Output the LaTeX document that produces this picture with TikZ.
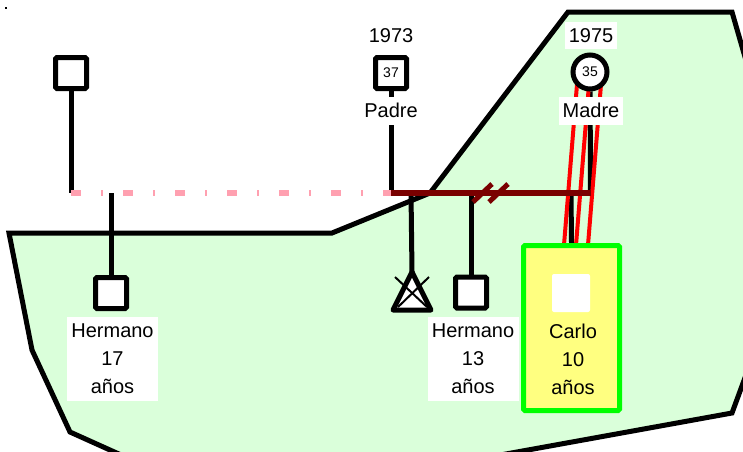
\documentclass[tikz,border=0pt]{standalone}
\usepackage{fontspec}
\setmainfont{Liberation Sans}
\usetikzlibrary{positioning}
\definecolor{areaColor}{RGB}{218,255,218}
\definecolor{pastColor}{RGB}{255,160,176}
\definecolor{marriageColor}{RGB}{122,0,0}
\definecolor{carloFill}{RGB}{255,255,128}
\definecolor{carloBorder}{RGB}{0,255,0}
\pgfdeclarelayer{areaLayer}
\pgfdeclarelayer{lineLayer}
\pgfsetlayers{areaLayer,lineLayer,main}
\tikzstyle{pixels} = [x = 1pt, y = -1pt]
\tikzstyle{maleStyle} = [draw=black, fill=white, line width=5pt, rounded corners=1.5pt, minimum size=31pt, inner sep=0pt, font=\fontsize{14}{14}\selectfont]
\tikzstyle{femaleStyle} = [circle, draw=black, fill=white, line width=5pt, minimum size=34pt, inner sep=0pt, font=\fontsize{14}{14}\selectfont]
\tikzstyle{nameText} = [inner sep=0pt, align=center, font=\fontsize{20}{28}\selectfont]
\tikzstyle{nameLabel} = [nameText, fill=white]
\tikzstyle{carloStyle} = [draw=carloBorder, fill=carloFill, line width=5pt, rounded corners=1.5pt, minimum width=96pt, minimum height=165pt, inner sep=0pt]
\tikzstyle{lifeLine} = [color=black, line width=5pt]
\tikzstyle{crossLine} = [color=black, line width=2pt]
\tikzstyle{fusedLine} = [color=red, line width=4pt]
\tikzstyle{pastLine} = [color=pastColor, line width=6pt, dash pattern=on 10pt off 20pt on 2pt off 20pt]
\tikzstyle{marriageLine} = [color=marriageColor, line width=6pt]
\tikzstyle{divorceStyle} = [color=marriageColor, line width=5pt]
\tikzstyle{areaStyle} = [fill=areaColor, draw=black, line width=5pt]
\newcommand{\divorceSlash}[1]{\draw [divorceStyle] ([xshift=#1]divorcio) ++(-10,9) -- ++(19,-18);}

\begin{document}
\begin{tikzpicture}[pixels]
  \useasboundingbox (0,0) rectangle (743,451);
  \fill (4.5,6.5) rectangle (7,8.5);

  % family members
  \node [maleStyle] (abuelo) at (71,73) {};
  \node [nameText] (padreYear) at (391,35.5) {1973};
  \node [maleStyle] (padre) at (391,73) {37};
  \node [nameLabel, minimum width=56pt, minimum height=28pt] (padreName) at (391,110.5) {Padre};
  \node [nameLabel, minimum width=52pt, minimum height=27pt] (madreYear) at (591,35.5) {1975};
  \node [femaleStyle] (madre) at (590,72) {35};
  \node [nameLabel, minimum width=64pt, minimum height=28pt] (madreName) at (591,110.5) {Madre};

  \node [maleStyle] (hermanoMayor) at (111,293) {};
  \node [nameLabel, minimum width=91pt, minimum height=84pt] (hermanoMayorText) at (112.5,359) {Hermano\\17\\años};
  \node [maleStyle] (hermanoMenor) at (471,292.5) {};
  \node [nameLabel, minimum width=91pt, minimum height=84pt] (hermanoMenorText) at (473,359) {Hermano\\13\\años};
  \node [carloStyle] (carloBox) at (571.5,328) {};
  \node [fill=white, rounded corners=2pt, minimum size=38pt, inner sep=0pt] (carlo) at (571,293) {};
  \node [nameText] (carloText) at (573,359) {Carlo\\10\\años};

  % aborto
  \coordinate (abortoTop) at (412,272);
  \filldraw [lifeLine, fill=white, line join=round] (abortoTop) -- (431,310) -- (393,310) -- cycle;
  \draw [crossLine] (395,277) -- (427,307);
  \draw [crossLine] (429,277) -- (398,307);

  % relationship points
  \coordinate (abueloLine) at (71,193);
  \coordinate (padreLine) at (391,193);
  \coordinate (madreLine) at (590.5,193);
  \coordinate (hermanoMayorLine) at (111,193);
  \coordinate (abortoLine) at (411,193);
  \coordinate (hermanoMenorLine) at (471,193);
  \coordinate (carloLine) at (571,193);
  \coordinate (fusionEnd) at (576,245);
  \coordinate (divorcio) at (483,193);

  \begin{pgfonlayer}{areaLayer}
    \clip (0,0) rectangle (743,451);
    \filldraw [areaStyle] (9,233) -- (332,233) -- (430,193) -- (568,12) -- (732,12) -- (760,109)
      -- (760,337) -- (732,413) -- (230,504) -- (70,432) -- (32,350) -- cycle;
  \end{pgfonlayer}

  \begin{pgfonlayer}{lineLayer}
    \draw [lifeLine] (abuelo) -- (abueloLine);
    \draw [lifeLine] (padre) -- (padreLine);
    \draw [lifeLine] (madre) -- (madreLine);
    \draw [lifeLine] (hermanoMayorLine) -- (hermanoMayor);
    \draw [lifeLine] (abortoLine) -- (abortoTop);
    \draw [lifeLine] (hermanoMenorLine) -- (hermanoMenor);
    \draw [lifeLine] (carloLine) -- (carloBox.north);
    \foreach \dx in {-12,0,12} {
      \draw [fusedLine] ([xshift=\dx]madre.center) -- ([xshift=\dx]fusionEnd);
    }
    \draw [pastLine] (abueloLine) -- (padreLine);
    \draw [marriageLine] (padreLine) -- (madreLine);
    \foreach \dx in {0,16} {\divorceSlash{\dx}}
  \end{pgfonlayer}
\end{tikzpicture}
\end{document}
